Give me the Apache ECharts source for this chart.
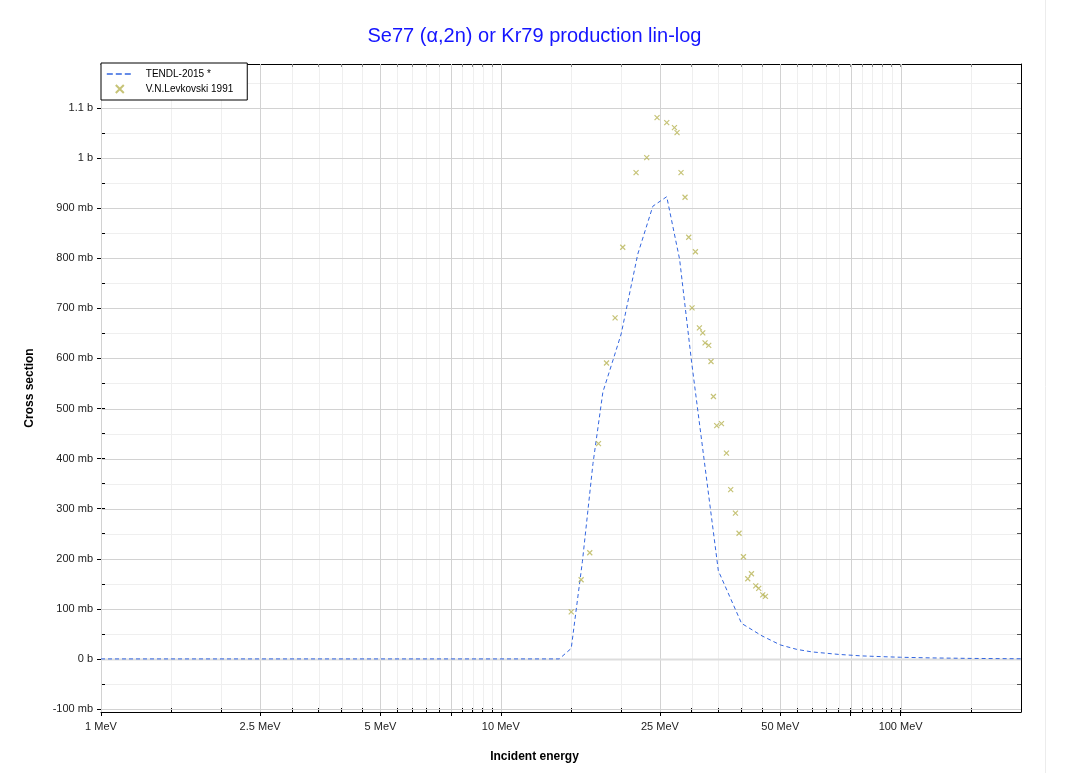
<!DOCTYPE html>
<html>
<head>
<meta charset="utf-8">
<script src="https://cdn.jsdelivr.net/npm/echarts@6/dist/echarts.min.js"></script>
<style>
html,body{margin:0;padding:0;background:#fff;}
#chart{width:1069px;height:773px;}
</style>
</head>
<body>
<div id="chart"></div>
<script>
// ---- data ----
const tendlEnergy = [1, 5, 10, 13, 14, 15, 16, 17, 18, 19, 20, 22, 24, 26, 28, 30, 35, 40, 45, 50, 55, 60, 70, 80, 90, 100, 120, 150, 200];
const tendlXS     = [0, 0, 0, 0, 0, 21, 195, 390, 533, 592, 649, 808, 904, 923, 798, 593, 176, 71, 46, 28, 19, 14, 9, 6, 4.5, 3.3, 2, 1, 0.3];

const expEnergy = [15.0, 15.88, 16.69, 17.55, 18.38, 19.31, 20.18, 21.79, 23.17, 24.59, 26.0, 27.18, 27.59, 28.23, 28.89, 29.51, 30.08, 30.67, 31.38, 31.99, 32.42, 33.11, 33.55, 34.02, 34.67, 35.63, 36.67, 37.58, 38.62, 39.43, 40.44, 41.46, 42.35, 43.41, 44.16, 45.19, 45.9];
const expXS     = [94, 158, 212, 430, 591, 681, 822, 971, 1001, 1081, 1071, 1061, 1051, 971, 922, 842, 701, 813, 661, 651, 631, 626, 594, 524, 466, 470, 411, 338, 291, 251, 204, 160, 170, 146, 141, 128, 125];

const xLabelTicks = [1, 2.5, 5, 10, 25, 50, 100];
const xMajorTicks = [1, 2.5, 5, 7.5, 10, 25, 50, 75, 100];
const xMinorTicks = [1.5, 2, 3, 3.5, 4, 4.5, 5.5, 6, 6.5, 7, 8, 8.5, 9, 9.5, 15, 20, 30, 35, 40, 45, 55, 60, 65, 70, 80, 85, 90, 95, 150];
const yMajorTicks = [-100, 0, 100, 200, 300, 400, 500, 600, 700, 800, 900, 1000, 1100];
const yMinorTicks = [-50, 50, 150, 250, 350, 450, 550, 650, 750, 850, 950, 1050, 1150];

const X_MIN_E = 1, X_MAX_E = 200;
const Y_MIN = -106, Y_MAX = 1188;

// ---- helpers ----
const lg = v => Math.log10(v);
const FONT = '"Liberation Sans", Arial, sans-serif';
const allXTicks = xMajorTicks.concat(xMinorTicks).map(lg);
const allYTicks = yMajorTicks.concat(yMinorTicks);

function fmtE(v) {
  const e = Math.round(Math.pow(10, v) * 10) / 10;
  return e + ' MeV';
}
function fmtXS(v) {
  if (v === 0) return '0 b';
  if (Math.abs(v) >= 1000) return (Math.round(v / 100) / 10) + ' b';
  return v + ' mb';
}

function vGrid(values, color, z) {
  return {
    type: 'custom', xAxisIndex: 0, yAxisIndex: 0, silent: true, z: z,
    data: values.map(v => [lg(v), 0]),
    encode: { x: 0, y: 1 },
    renderItem: function (params, api) {
      const p1 = api.coord([api.value(0), Y_MIN]);
      const p2 = api.coord([api.value(0), Y_MAX]);
      const x = Math.round(p1[0]) + 0.5;
      return { type: 'line', shape: { x1: x, y1: p1[1], x2: x, y2: p2[1] }, style: { stroke: color, lineWidth: 1 } };
    }
  };
}
function hGrid(values, color, z, w) {
  return {
    type: 'custom', xAxisIndex: 0, yAxisIndex: 0, silent: true, z: z,
    data: values.map(v => [0, v]),
    encode: { x: 0, y: 1 },
    renderItem: function (params, api) {
      const p1 = api.coord([0, api.value(1)]);
      const p2 = api.coord([lg(X_MAX_E), api.value(1)]);
      const y = Math.round(p1[1]) + 0.5;
      return { type: 'line', shape: { x1: p1[0], y1: y, x2: p2[0], y2: y }, style: { stroke: color, lineWidth: w || 1 } };
    }
  };
}

const chart = echarts.init(document.getElementById('chart'), null, { renderer: 'canvas' });

const baseX = { type: 'value', min: lg(X_MIN_E), max: lg(X_MAX_E), splitLine: { show: false } };
const baseY = { type: 'value', min: Y_MIN, max: Y_MAX, splitLine: { show: false } };

const option = {
  animation: false,
  backgroundColor: '#fff',
  textStyle: { fontFamily: FONT },
  title: {
    text: 'Se77 (α,2n) or Kr79 production lin-log',
    left: 'center', top: 26, padding: 0,
    textStyle: { color: '#1414ff', fontSize: 20, fontWeight: 'normal', fontFamily: FONT }
  },
  legend: {
    left: 101, top: 63, orient: 'vertical',
    backgroundColor: '#fff', borderColor: '#000', borderWidth: 1, borderRadius: 0,
    padding: [6, 14, 6, 5], itemGap: 5, itemWidth: 26, itemHeight: 8,
    lineStyle: { width: 1.6, type: [6, 3] },
    textStyle: { fontSize: 10, color: '#000', fontFamily: FONT, padding: [0, 0, 0, 8] },
    data: ['TENDL-2015 *', 'V.N.Levkovski 1991']
  },
  grid: { left: 101, right: 48, top: 64, bottom: 61, containLabel: false },
  xAxis: [
    Object.assign({}, baseX, {
      position: 'bottom',
      axisLine: { show: true, onZero: false, lineStyle: { color: '#000', width: 1 } },
      axisTick: { show: true, inside: true, length: 4, customValues: allXTicks, lineStyle: { color: '#000' } },
      axisLabel: { show: true, customValues: xLabelTicks.map(lg), formatter: fmtE, margin: 9, fontSize: 11, color: '#222', fontFamily: FONT }
    }),
    Object.assign({}, baseX, {
      position: 'bottom',
      axisLine: { show: false, onZero: false },
      axisTick: { show: true, inside: false, length: 4, customValues: xMajorTicks.map(lg), lineStyle: { color: '#000' } },
      axisLabel: { show: false }
    }),
    Object.assign({}, baseX, {
      position: 'top',
      axisLine: { show: true, onZero: false, lineStyle: { color: '#000', width: 1 } },
      axisTick: { show: true, inside: true, length: 3, customValues: allXTicks, lineStyle: { color: '#888' } },
      axisLabel: { show: false }
    })
  ],
  yAxis: [
    Object.assign({}, baseY, {
      position: 'left',
      axisLine: { show: true, onZero: false, lineStyle: { color: '#000', width: 1 } },
      axisTick: { show: true, inside: false, length: 4, customValues: yMajorTicks, lineStyle: { color: '#000' } },
      axisLabel: { show: true, customValues: yMajorTicks, formatter: fmtXS, margin: 8, fontSize: 11, color: '#222', fontFamily: FONT }
    }),
    Object.assign({}, baseY, {
      position: 'left',
      axisLine: { show: false, onZero: false },
      axisTick: { show: true, inside: true, length: 4, customValues: allYTicks, lineStyle: { color: '#000' } },
      axisLabel: { show: false }
    }),
    Object.assign({}, baseY, {
      position: 'right',
      axisLine: { show: true, onZero: false, lineStyle: { color: '#000', width: 1 } },
      axisTick: { show: true, inside: true, length: 4, customValues: allYTicks, lineStyle: { color: '#555' } },
      axisLabel: { show: false }
    })
  ],
  graphic: [
    { type: 'text', left: 'center', top: 751, style: { text: 'Incident energy', font: 'bold 12px ' + FONT, fill: '#000' } },
    { type: 'text', x: 30, y: 388, rotation: Math.PI / 2, style: { text: 'Cross section', font: 'bold 12px ' + FONT, fill: '#000', align: 'center', verticalAlign: 'middle' } },
    { type: 'line', shape: { x1: 1045.5, y1: 0, x2: 1045.5, y2: 773 }, style: { stroke: '#ececec', lineWidth: 1 }, silent: true }
  ],
  series: [
    vGrid(xMinorTicks, '#efefef', 0),
    hGrid(yMinorTicks, '#efefef', 0),
    vGrid(xMajorTicks, '#d2d2d2', 1),
    hGrid(yMajorTicks.filter(v => v !== 0), '#d2d2d2', 1),
    hGrid([0], '#dddddd', 1, 2),
    {
      name: 'TENDL-2015 *', type: 'line', xAxisIndex: 0, yAxisIndex: 0, z: 3,
      data: tendlEnergy.map((e, i) => [lg(e), tendlXS[i]]),
      showSymbol: false, symbol: 'circle', symbolSize: 0, smooth: false,
      lineStyle: { color: '#3366e0', width: 1, type: [4, 3] },
      itemStyle: { color: 'rgba(0,0,0,0)' }
    },
    {
      name: 'V.N.Levkovski 1991', type: 'scatter', xAxisIndex: 0, yAxisIndex: 0, z: 4,
      data: expEnergy.map((e, i) => [lg(e), expXS[i]]),
      symbol: 'path://M0,0L10,10M10,0L0,10', symbolSize: 5, symbolKeepAspect: true,
      itemStyle: { color: '#b8b455', borderColor: '#b8b455', borderWidth: 1.2 }
    }
  ]
};
chart.setOption(option);
</script>
</body>
</html>
